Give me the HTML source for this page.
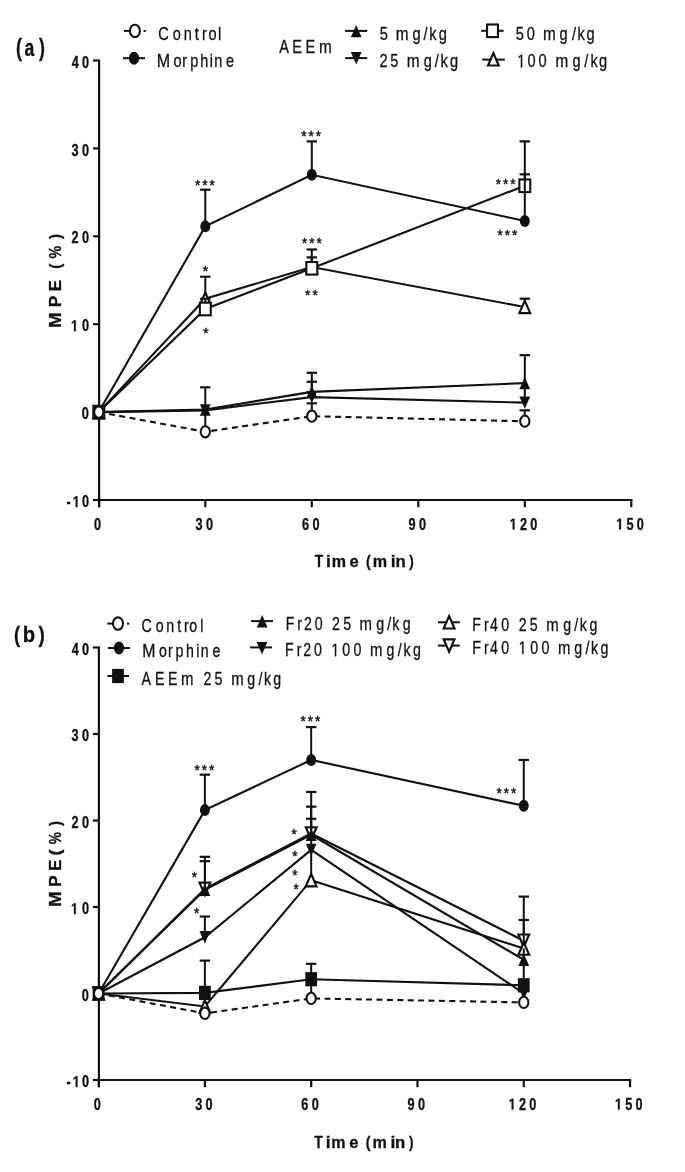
<!DOCTYPE html>
<html><head><meta charset="utf-8"><style>
html,body{margin:0;padding:0;background:#fff;}
svg{display:block;will-change:transform;}
text{font-family:"Liberation Sans",sans-serif;font-kerning:none;stroke:none;}
.r{stroke:#111;stroke-width:0.3px;}
.b{stroke:#111;stroke-width:0.3px;}
</style></head><body>
<svg width="685" height="1172" viewBox="0 0 685 1172">
<rect width="685" height="1172" fill="#fff"/>
<g stroke="#111" fill="#111" font-family="Liberation Sans, sans-serif">
<line x1="99.10" y1="59.40" x2="99.10" y2="507.20" stroke-width="2.20"/>
<line x1="93.10" y1="60.50" x2="99.10" y2="60.50" stroke-width="2.20"/>
<line x1="93.10" y1="148.40" x2="99.10" y2="148.40" stroke-width="2.20"/>
<line x1="93.10" y1="236.30" x2="99.10" y2="236.30" stroke-width="2.20"/>
<line x1="93.10" y1="324.20" x2="99.10" y2="324.20" stroke-width="2.20"/>
<line x1="93.10" y1="412.10" x2="99.10" y2="412.10" stroke-width="2.20"/>
<line x1="93.10" y1="500.00" x2="99.10" y2="500.00" stroke-width="2.20"/>
<line x1="93.10" y1="500.00" x2="632.40" y2="500.00" stroke-width="2.20"/>
<line x1="99.10" y1="500.00" x2="99.10" y2="507.20" stroke-width="2.20"/>
<line x1="205.30" y1="500.00" x2="205.30" y2="507.20" stroke-width="2.20"/>
<line x1="311.80" y1="500.00" x2="311.80" y2="507.20" stroke-width="2.20"/>
<line x1="418.30" y1="500.00" x2="418.30" y2="507.20" stroke-width="2.20"/>
<line x1="524.80" y1="500.00" x2="524.80" y2="507.20" stroke-width="2.20"/>
<line x1="631.30" y1="500.00" x2="631.30" y2="507.20" stroke-width="2.20"/>
<text transform="translate(71.71,67.60) scale(0.8000,1)" font-size="15.90" font-weight="bold" letter-spacing="3.957" class="b">40</text>
<text transform="translate(71.61,155.50) scale(0.8000,1)" font-size="15.90" font-weight="bold" letter-spacing="4.084" class="b">30</text>
<text transform="translate(71.45,243.40) scale(0.8000,1)" font-size="15.90" font-weight="bold" letter-spacing="4.275" class="b">20</text>
<text transform="translate(71.03,331.30) scale(0.8000,1)" font-size="15.90" font-weight="bold" letter-spacing="4.806" class="b"> 0</text>
<path transform="translate(71.030,331.300) scale(0.00621,-0.00776)" d="M478 0V1170L140 959V1180L493 1409H759V0Z" fill="#111" stroke="#111" stroke-width="38.642"/>
<text transform="translate(81.79,419.20) scale(0.8000,1)" font-size="15.90" font-weight="bold" letter-spacing="0.000" class="b">0</text>
<text transform="translate(66.40,507.10) scale(0.8000,1)" font-size="15.90" font-weight="bold" letter-spacing="2.647" class="b">- 0</text>
<path transform="translate(72.757,507.100) scale(0.00621,-0.00776)" d="M478 0V1170L140 959V1180L493 1409H759V0Z" fill="#111" stroke="#111" stroke-width="38.642"/>
<text transform="translate(93.89,529.60) scale(0.8000,1)" font-size="15.90" font-weight="bold" letter-spacing="0.000" class="b">0</text>
<text transform="translate(195.61,529.60) scale(0.8000,1)" font-size="15.90" font-weight="bold" letter-spacing="4.084" class="b">30</text>
<text transform="translate(301.93,529.60) scale(0.8000,1)" font-size="15.90" font-weight="bold" letter-spacing="4.307" class="b">60</text>
<text transform="translate(408.45,529.60) scale(0.8000,1)" font-size="15.90" font-weight="bold" letter-spacing="4.275" class="b">90</text>
<text transform="translate(509.73,529.60) scale(0.8000,1)" font-size="15.90" font-weight="bold" letter-spacing="3.981" class="b"> 20</text>
<path transform="translate(509.730,529.600) scale(0.00621,-0.00776)" d="M478 0V1170L140 959V1180L493 1409H759V0Z" fill="#111" stroke="#111" stroke-width="38.642"/>
<text transform="translate(616.23,529.60) scale(0.8000,1)" font-size="15.90" font-weight="bold" letter-spacing="3.981" class="b"> 50</text>
<path transform="translate(616.230,529.600) scale(0.00621,-0.00776)" d="M478 0V1170L140 959V1180L493 1409H759V0Z" fill="#111" stroke="#111" stroke-width="38.642"/>
<text transform="translate(16.11,55.60) scale(0.7676,1)" font-size="23.10" font-weight="bold" class="b">(</text>
<text transform="translate(24.59,55.60) scale(0.7635,1)" font-size="23.10" font-weight="bold" class="b">a</text>
<text transform="translate(38.88,55.60) scale(0.7676,1)" font-size="23.10" font-weight="bold" class="b">)</text>
<text transform="translate(314.65,566.90) scale(0.8189,1)" font-size="17.00" font-weight="bold" class="b">T</text>
<text transform="translate(326.07,566.90) scale(1.0305,1)" font-size="17.00" font-weight="bold" class="b">i</text>
<text transform="translate(331.64,566.90) scale(0.9430,1)" font-size="17.00" font-weight="bold" class="b">m</text>
<text transform="translate(349.55,566.90) scale(0.9743,1)" font-size="17.00" font-weight="bold" class="b">e</text>
<text transform="translate(366.09,566.90) scale(0.8344,1)" font-size="17.00" font-weight="bold" class="b">(</text>
<text transform="translate(372.73,566.90) scale(0.9508,1)" font-size="17.00" font-weight="bold" class="b">m</text>
<text transform="translate(390.77,566.90) scale(1.0305,1)" font-size="17.00" font-weight="bold" class="b">i</text>
<text transform="translate(395.39,566.90) scale(0.9865,1)" font-size="17.00" font-weight="bold" class="b">n</text>
<text transform="translate(409.19,566.90) scale(0.7927,1)" font-size="17.00" font-weight="bold" class="b">)</text>
<text transform="translate(60.50,327.73) rotate(-90) scale(1.1374,1)" font-size="16.10" font-weight="bold" class="b">M</text>
<text transform="translate(60.50,307.16) rotate(-90) scale(1.0754,1)" font-size="16.10" font-weight="bold" class="b">P</text>
<text transform="translate(60.50,291.32) rotate(-90) scale(1.0407,1)" font-size="16.10" font-weight="bold" class="b">E</text>
<text transform="translate(60.50,268.76) rotate(-90) scale(0.9471,1)" font-size="16.10" font-weight="bold" class="b">(</text>
<text transform="translate(60.50,258.56) rotate(-90) scale(0.8894,1)" font-size="16.10" font-weight="bold" class="b">%</text>
<text transform="translate(60.50,239.02) rotate(-90) scale(0.9471,1)" font-size="16.10" font-weight="bold" class="b">)</text>
<polyline points="98.80,412.10 205.30,298.71 311.80,267.07 524.80,306.97" fill="none" stroke-width="2.10"/>
<line x1="205.30" y1="298.71" x2="205.30" y2="276.73" stroke-width="2.00"/>
<line x1="200.10" y1="276.73" x2="210.50" y2="276.73" stroke-width="2.20"/>
<line x1="311.80" y1="267.07" x2="311.80" y2="249.49" stroke-width="2.00"/>
<line x1="306.60" y1="249.49" x2="317.00" y2="249.49" stroke-width="2.20"/>
<line x1="524.80" y1="306.97" x2="524.80" y2="298.71" stroke-width="2.00"/>
<line x1="519.60" y1="298.71" x2="530.00" y2="298.71" stroke-width="2.20"/>
<polygon points="93.40,418.30 98.80,405.90 104.20,418.30" fill="#fff" stroke-width="2.15" stroke-linejoin="miter"/>
<polygon points="199.90,304.91 205.30,292.51 210.70,304.91" fill="#fff" stroke-width="2.15" stroke-linejoin="miter"/>
<polygon points="306.40,273.27 311.80,260.87 317.20,273.27" fill="#fff" stroke-width="2.15" stroke-linejoin="miter"/>
<polygon points="519.40,313.17 524.80,300.77 530.20,313.17" fill="#fff" stroke-width="2.15" stroke-linejoin="miter"/>
<polyline points="98.80,412.10 205.30,308.99 311.80,268.30 524.80,185.76" fill="none" stroke-width="2.10"/>
<line x1="205.30" y1="308.99" x2="205.30" y2="298.71" stroke-width="2.00"/>
<line x1="200.10" y1="298.71" x2="210.50" y2="298.71" stroke-width="2.20"/>
<line x1="311.80" y1="268.30" x2="311.80" y2="257.40" stroke-width="2.00"/>
<line x1="306.60" y1="257.40" x2="317.00" y2="257.40" stroke-width="2.20"/>
<line x1="524.80" y1="185.76" x2="524.80" y2="141.37" stroke-width="2.00"/>
<line x1="519.60" y1="141.37" x2="530.00" y2="141.37" stroke-width="2.20"/>
<rect x="93.35" y="405.80" width="10.90" height="12.60" fill="#fff" stroke-width="2.1"/>
<rect x="199.85" y="302.69" width="10.90" height="12.60" fill="#fff" stroke-width="2.1"/>
<rect x="306.35" y="262.00" width="10.90" height="12.60" fill="#fff" stroke-width="2.1"/>
<rect x="519.35" y="179.46" width="10.90" height="12.60" fill="#fff" stroke-width="2.1"/>
<polyline points="98.80,412.10 205.30,410.34 311.80,397.16 524.80,402.61" fill="none" stroke-width="2.10"/>
<line x1="205.30" y1="410.34" x2="205.30" y2="409.46" stroke-width="2.00"/>
<line x1="311.80" y1="397.16" x2="311.80" y2="381.77" stroke-width="2.00"/>
<line x1="306.60" y1="381.77" x2="317.00" y2="381.77" stroke-width="2.20"/>
<line x1="524.80" y1="402.61" x2="524.80" y2="383.97" stroke-width="2.00"/>
<polygon points="93.40,405.90 98.80,418.30 104.20,405.90" fill="#111" stroke="none"/>
<polygon points="199.90,404.14 205.30,416.54 210.70,404.14" fill="#111" stroke="none"/>
<polygon points="306.40,390.96 311.80,403.36 317.20,390.96" fill="#111" stroke="none"/>
<polygon points="519.40,396.41 524.80,408.81 530.20,396.41" fill="#111" stroke="none"/>
<polyline points="98.80,412.10 205.30,409.46 311.80,391.88 524.80,383.09" fill="none" stroke-width="2.10"/>
<line x1="205.30" y1="409.46" x2="205.30" y2="387.31" stroke-width="2.00"/>
<line x1="200.10" y1="387.31" x2="210.50" y2="387.31" stroke-width="2.20"/>
<line x1="311.80" y1="391.88" x2="311.80" y2="372.81" stroke-width="2.00"/>
<line x1="306.60" y1="372.81" x2="317.00" y2="372.81" stroke-width="2.20"/>
<line x1="524.80" y1="383.09" x2="524.80" y2="355.14" stroke-width="2.00"/>
<line x1="519.60" y1="355.14" x2="530.00" y2="355.14" stroke-width="2.20"/>
<polygon points="93.40,418.30 98.80,405.90 104.20,418.30" fill="#111" stroke="none"/>
<polygon points="199.90,415.66 205.30,403.26 210.70,415.66" fill="#111" stroke="none"/>
<polygon points="306.40,398.08 311.80,385.68 317.20,398.08" fill="#111" stroke="none"/>
<polygon points="519.40,389.29 524.80,376.89 530.20,389.29" fill="#111" stroke="none"/>
<polyline points="98.80,412.10 205.30,226.37 311.80,174.77 524.80,220.92" fill="none" stroke-width="2.10"/>
<line x1="205.30" y1="226.37" x2="205.30" y2="189.71" stroke-width="2.00"/>
<line x1="200.10" y1="189.71" x2="210.50" y2="189.71" stroke-width="2.20"/>
<line x1="311.80" y1="174.77" x2="311.80" y2="141.37" stroke-width="2.00"/>
<line x1="306.60" y1="141.37" x2="317.00" y2="141.37" stroke-width="2.20"/>
<line x1="524.80" y1="220.92" x2="524.80" y2="174.33" stroke-width="2.00"/>
<line x1="519.60" y1="174.33" x2="530.00" y2="174.33" stroke-width="2.20"/>
<ellipse cx="98.80" cy="412.10" rx="5.00" ry="6.00" fill="#111" stroke="none"/>
<ellipse cx="205.30" cy="226.37" rx="5.00" ry="6.00" fill="#111" stroke="none"/>
<ellipse cx="311.80" cy="174.77" rx="5.00" ry="6.00" fill="#111" stroke="none"/>
<ellipse cx="524.80" cy="220.92" rx="5.00" ry="6.00" fill="#111" stroke="none"/>
<polyline points="98.80,412.10 205.30,431.79 311.80,416.23 524.80,421.24" fill="none" stroke-width="2.10" stroke-dasharray="6,4.4"/>
<line x1="205.30" y1="431.79" x2="205.30" y2="412.10" stroke-width="2.00"/>
<line x1="311.80" y1="416.23" x2="311.80" y2="403.31" stroke-width="2.00"/>
<line x1="306.60" y1="403.31" x2="317.00" y2="403.31" stroke-width="2.20"/>
<line x1="524.80" y1="421.24" x2="524.80" y2="410.34" stroke-width="2.00"/>
<line x1="519.60" y1="410.34" x2="530.00" y2="410.34" stroke-width="2.20"/>
<ellipse cx="98.80" cy="412.10" rx="4.65" ry="5.60" fill="#fff" stroke-width="2.05"/>
<ellipse cx="205.30" cy="431.79" rx="4.65" ry="5.60" fill="#fff" stroke-width="2.05"/>
<ellipse cx="311.80" cy="416.23" rx="4.65" ry="5.60" fill="#fff" stroke-width="2.05"/>
<ellipse cx="524.80" cy="421.24" rx="4.65" ry="5.60" fill="#fff" stroke-width="2.05"/>
<text transform="translate(195.08,189.73) scale(0.9500,1)" font-size="14.30" font-weight="normal" letter-spacing="2.093" class="r" style="stroke-width:0.45px">***</text>
<text transform="translate(301.28,140.53) scale(0.9500,1)" font-size="14.30" font-weight="normal" letter-spacing="2.093" class="r" style="stroke-width:0.45px">***</text>
<text transform="translate(202.78,275.83) scale(0.9500,1)" font-size="14.30" font-weight="normal" letter-spacing="0.000" class="r" style="stroke-width:0.45px">*</text>
<text transform="translate(203.18,337.73) scale(0.9500,1)" font-size="14.30" font-weight="normal" letter-spacing="0.000" class="r" style="stroke-width:0.45px">*</text>
<text transform="translate(301.88,248.33) scale(0.9500,1)" font-size="14.30" font-weight="normal" letter-spacing="2.093" class="r" style="stroke-width:0.45px">***</text>
<text transform="translate(305.03,300.33) scale(0.9500,1)" font-size="14.30" font-weight="normal" letter-spacing="2.277" class="r" style="stroke-width:0.45px">**</text>
<text transform="translate(495.68,189.23) scale(0.9500,1)" font-size="14.30" font-weight="normal" letter-spacing="2.093" class="r" style="stroke-width:0.45px">***</text>
<text transform="translate(497.58,240.03) scale(0.9500,1)" font-size="14.30" font-weight="normal" letter-spacing="2.093" class="r" style="stroke-width:0.45px">***</text>
<line x1="123.90" y1="30.90" x2="129.50" y2="30.90" stroke-width="2.00"/>
<line x1="143.60" y1="30.90" x2="145.80" y2="30.90" stroke-width="2.00"/>
<ellipse cx="134.90" cy="30.90" rx="5.00" ry="6.20" fill="#fff" stroke-width="2.05"/>
<line x1="123.00" y1="58.20" x2="145.00" y2="58.20" stroke-width="2.00"/>
<ellipse cx="134.00" cy="58.20" rx="5.15" ry="6.45" fill="#111" stroke="none"/>
<text transform="scale(0.7800,1)" x="203.02 221.52 235.43 249.59 259.02 267.42 279.39" y="40.10" font-size="18.70" font-weight="normal" class="r">Control</text>
<text transform="scale(0.8700,1)" x="180.21" y="67.20" font-size="18.50" font-weight="normal" class="r">M</text>
<text transform="scale(0.7800,1)" x="222.56 233.78 243.93 256.67 269.02 274.68 289.86" y="67.20" font-size="18.50" font-weight="normal" class="r">orphine</text>
<text transform="scale(0.7800,1)" x="357.91 374.75 391.67" y="53.00" font-size="18.70" font-weight="normal" class="r">AEE</text>
<text transform="scale(0.8200,1)" x="389.01" y="53.00" font-size="18.70" font-weight="normal" class="r">m</text>
<line x1="345.10" y1="30.90" x2="367.20" y2="30.90" stroke-width="2.00"/>
<polygon points="350.80,37.30 356.20,24.90 361.60,37.30" fill="#111" stroke="none"/>
<line x1="345.10" y1="58.10" x2="367.20" y2="58.10" stroke-width="2.00"/>
<polygon points="350.80,52.10 356.20,64.50 361.60,52.10" fill="#111" stroke="none"/>
<text transform="scale(0.7800,1)" x="486.82 528.83 543.08 550.29 562.55" y="40.00" font-size="18.70" font-weight="normal" class="r">5g/kg</text>
<text transform="scale(0.8200,1)" x="482.55" y="40.00" font-size="18.70" font-weight="normal" class="r">m</text>
<text transform="scale(0.7800,1)" x="486.63 500.28 543.19 557.44 564.64 576.78" y="66.60" font-size="18.70" font-weight="normal" class="r">25g/kg</text>
<text transform="scale(0.8200,1)" x="496.08" y="66.60" font-size="18.70" font-weight="normal" class="r">m</text>
<line x1="481.20" y1="30.80" x2="503.60" y2="30.80" stroke-width="2.00"/>
<rect x="487.05" y="24.50" width="10.90" height="12.60" fill="#fff" stroke-width="2.1"/>
<line x1="482.30" y1="59.60" x2="504.80" y2="59.60" stroke-width="2.00"/>
<polygon points="488.00,65.50 493.40,53.10 498.80,65.50" fill="#fff" stroke-width="2.15" stroke-linejoin="miter"/>
<text transform="scale(0.7800,1)" x="661.30 675.30 717.42 733.21 740.29 752.04" y="40.00" font-size="18.70" font-weight="normal" class="r">50g/kg</text>
<text transform="scale(0.8200,1)" x="662.30" y="40.00" font-size="18.70" font-weight="normal" class="r">m</text>
<path transform="translate(517.197,67.500) scale(0.00712,-0.00913)" d="M515 0V1237L197 1010V1180L530 1409H696V0Z" fill="#111" stroke="#111" stroke-width="32.856"/>
<text transform="scale(0.7800,1)" x="676.32 690.30 733.83 749.10 757.21 767.93" y="67.50" font-size="18.70" font-weight="normal" class="r">00g/kg</text>
<text transform="scale(0.8200,1)" x="677.42" y="67.50" font-size="18.70" font-weight="normal" class="r">m</text>
<line x1="98.90" y1="646.40" x2="98.90" y2="1087.20" stroke-width="2.20"/>
<line x1="92.90" y1="647.50" x2="98.90" y2="647.50" stroke-width="2.20"/>
<line x1="92.90" y1="734.00" x2="98.90" y2="734.00" stroke-width="2.20"/>
<line x1="92.90" y1="820.50" x2="98.90" y2="820.50" stroke-width="2.20"/>
<line x1="92.90" y1="907.00" x2="98.90" y2="907.00" stroke-width="2.20"/>
<line x1="92.90" y1="993.50" x2="98.90" y2="993.50" stroke-width="2.20"/>
<line x1="92.90" y1="1080.00" x2="98.90" y2="1080.00" stroke-width="2.20"/>
<line x1="92.90" y1="1080.00" x2="631.15" y2="1080.00" stroke-width="2.20"/>
<line x1="98.90" y1="1080.00" x2="98.90" y2="1087.20" stroke-width="2.20"/>
<line x1="204.89" y1="1080.00" x2="204.89" y2="1087.20" stroke-width="2.20"/>
<line x1="311.18" y1="1080.00" x2="311.18" y2="1087.20" stroke-width="2.20"/>
<line x1="417.47" y1="1080.00" x2="417.47" y2="1087.20" stroke-width="2.20"/>
<line x1="523.76" y1="1080.00" x2="523.76" y2="1087.20" stroke-width="2.20"/>
<line x1="630.05" y1="1080.00" x2="630.05" y2="1087.20" stroke-width="2.20"/>
<text transform="translate(71.71,654.60) scale(0.8000,1)" font-size="15.90" font-weight="bold" letter-spacing="3.957" class="b">40</text>
<text transform="translate(71.61,741.10) scale(0.8000,1)" font-size="15.90" font-weight="bold" letter-spacing="4.084" class="b">30</text>
<text transform="translate(71.45,827.60) scale(0.8000,1)" font-size="15.90" font-weight="bold" letter-spacing="4.275" class="b">20</text>
<text transform="translate(71.03,914.10) scale(0.8000,1)" font-size="15.90" font-weight="bold" letter-spacing="4.806" class="b"> 0</text>
<path transform="translate(71.030,914.100) scale(0.00621,-0.00776)" d="M478 0V1170L140 959V1180L493 1409H759V0Z" fill="#111" stroke="#111" stroke-width="38.642"/>
<text transform="translate(81.79,1000.60) scale(0.8000,1)" font-size="15.90" font-weight="bold" letter-spacing="0.000" class="b">0</text>
<text transform="translate(66.40,1087.10) scale(0.8000,1)" font-size="15.90" font-weight="bold" letter-spacing="2.647" class="b">- 0</text>
<path transform="translate(72.757,1087.100) scale(0.00621,-0.00776)" d="M478 0V1170L140 959V1180L493 1409H759V0Z" fill="#111" stroke="#111" stroke-width="38.642"/>
<text transform="translate(93.69,1109.60) scale(0.8000,1)" font-size="15.90" font-weight="bold" letter-spacing="0.000" class="b">0</text>
<text transform="translate(195.20,1109.60) scale(0.8000,1)" font-size="15.90" font-weight="bold" letter-spacing="4.084" class="b">30</text>
<text transform="translate(301.31,1109.60) scale(0.8000,1)" font-size="15.90" font-weight="bold" letter-spacing="4.307" class="b">60</text>
<text transform="translate(407.62,1109.60) scale(0.8000,1)" font-size="15.90" font-weight="bold" letter-spacing="4.275" class="b">90</text>
<text transform="translate(508.69,1109.60) scale(0.8000,1)" font-size="15.90" font-weight="bold" letter-spacing="3.981" class="b"> 20</text>
<path transform="translate(508.690,1109.600) scale(0.00621,-0.00776)" d="M478 0V1170L140 959V1180L493 1409H759V0Z" fill="#111" stroke="#111" stroke-width="38.642"/>
<text transform="translate(614.98,1109.60) scale(0.8000,1)" font-size="15.90" font-weight="bold" letter-spacing="3.981" class="b"> 50</text>
<path transform="translate(614.980,1109.600) scale(0.00621,-0.00776)" d="M478 0V1170L140 959V1180L493 1409H759V0Z" fill="#111" stroke="#111" stroke-width="38.642"/>
<text transform="translate(14.08,642.00) scale(0.8052,1)" font-size="22.90" font-weight="bold" class="b">(</text>
<text transform="translate(22.66,642.00) scale(0.8838,1)" font-size="22.90" font-weight="bold" class="b">b</text>
<text transform="translate(38.58,642.00) scale(0.8207,1)" font-size="22.90" font-weight="bold" class="b">)</text>
<text transform="translate(314.35,1147.60) scale(0.8189,1)" font-size="17.00" font-weight="bold" class="b">T</text>
<text transform="translate(325.77,1147.60) scale(1.0305,1)" font-size="17.00" font-weight="bold" class="b">i</text>
<text transform="translate(331.34,1147.60) scale(0.9430,1)" font-size="17.00" font-weight="bold" class="b">m</text>
<text transform="translate(349.25,1147.60) scale(0.9743,1)" font-size="17.00" font-weight="bold" class="b">e</text>
<text transform="translate(365.79,1147.60) scale(0.8344,1)" font-size="17.00" font-weight="bold" class="b">(</text>
<text transform="translate(372.43,1147.60) scale(0.9508,1)" font-size="17.00" font-weight="bold" class="b">m</text>
<text transform="translate(390.47,1147.60) scale(1.0305,1)" font-size="17.00" font-weight="bold" class="b">i</text>
<text transform="translate(395.09,1147.60) scale(0.9865,1)" font-size="17.00" font-weight="bold" class="b">n</text>
<text transform="translate(408.89,1147.60) scale(0.7927,1)" font-size="17.00" font-weight="bold" class="b">)</text>
<text transform="translate(60.50,906.73) rotate(-90) scale(1.1374,1)" font-size="16.10" font-weight="bold" class="b">M</text>
<text transform="translate(60.50,887.07) rotate(-90) scale(1.0864,1)" font-size="16.10" font-weight="bold" class="b">P</text>
<text transform="translate(60.50,870.72) rotate(-90) scale(1.0407,1)" font-size="16.10" font-weight="bold" class="b">E</text>
<text transform="translate(60.50,855.60) rotate(-90) scale(1.1233,1)" font-size="16.10" font-weight="bold" class="b">(</text>
<text transform="translate(60.50,844.34) rotate(-90) scale(0.8524,1)" font-size="16.10" font-weight="bold" class="b">%</text>
<text transform="translate(60.50,826.12) rotate(-90) scale(0.9471,1)" font-size="16.10" font-weight="bold" class="b">)</text>
<polyline points="98.60,993.50 204.89,888.84 311.18,833.48 523.76,940.74" fill="none" stroke-width="2.10"/>
<line x1="204.89" y1="888.84" x2="204.89" y2="861.15" stroke-width="2.00"/>
<line x1="199.69" y1="861.15" x2="210.09" y2="861.15" stroke-width="2.20"/>
<line x1="311.18" y1="833.48" x2="311.18" y2="791.95" stroke-width="2.00"/>
<line x1="305.98" y1="791.95" x2="316.38" y2="791.95" stroke-width="2.20"/>
<line x1="523.76" y1="940.74" x2="523.76" y2="896.62" stroke-width="2.00"/>
<line x1="518.56" y1="896.62" x2="528.96" y2="896.62" stroke-width="2.20"/>
<polygon points="93.20,987.30 98.60,999.70 104.00,987.30" fill="#fff" stroke-width="2.15" stroke-linejoin="miter"/>
<polygon points="199.49,882.63 204.89,895.04 210.29,882.63" fill="#fff" stroke-width="2.15" stroke-linejoin="miter"/>
<polygon points="305.78,827.27 311.18,839.68 316.58,827.27" fill="#fff" stroke-width="2.15" stroke-linejoin="miter"/>
<polygon points="518.36,934.53 523.76,946.94 529.16,934.53" fill="#fff" stroke-width="2.15" stroke-linejoin="miter"/>
<polyline points="98.60,993.50 204.89,1006.48 311.18,880.18 523.76,948.52" fill="none" stroke-width="2.10"/>
<line x1="204.89" y1="1006.48" x2="204.89" y2="993.50" stroke-width="2.00"/>
<line x1="311.18" y1="880.18" x2="311.18" y2="849.91" stroke-width="2.00"/>
<line x1="523.76" y1="948.52" x2="523.76" y2="919.98" stroke-width="2.00"/>
<line x1="518.56" y1="919.98" x2="528.96" y2="919.98" stroke-width="2.20"/>
<polygon points="93.20,999.70 98.60,987.30 104.00,999.70" fill="#fff" stroke-width="2.15" stroke-linejoin="miter"/>
<polygon points="199.49,1012.68 204.89,1000.27 210.29,1012.68" fill="#fff" stroke-width="2.15" stroke-linejoin="miter"/>
<polygon points="305.78,886.38 311.18,873.98 316.58,886.38" fill="#fff" stroke-width="2.15" stroke-linejoin="miter"/>
<polygon points="518.36,954.72 523.76,942.32 529.16,954.72" fill="#fff" stroke-width="2.15" stroke-linejoin="miter"/>
<polyline points="98.60,993.50 204.89,937.27 311.18,849.91 523.76,993.50" fill="none" stroke-width="2.10"/>
<line x1="204.89" y1="937.27" x2="204.89" y2="916.51" stroke-width="2.00"/>
<line x1="199.69" y1="916.51" x2="210.09" y2="916.51" stroke-width="2.20"/>
<line x1="311.18" y1="849.91" x2="311.18" y2="818.77" stroke-width="2.00"/>
<line x1="305.98" y1="818.77" x2="316.38" y2="818.77" stroke-width="2.20"/>
<line x1="523.76" y1="993.50" x2="523.76" y2="985.28" stroke-width="2.00"/>
<polygon points="93.20,987.30 98.60,999.70 104.00,987.30" fill="#111" stroke="none"/>
<polygon points="199.49,931.07 204.89,943.48 210.29,931.07" fill="#111" stroke="none"/>
<polygon points="305.78,843.71 311.18,856.11 316.58,843.71" fill="#111" stroke="none"/>
<polygon points="518.36,987.30 523.76,999.70 529.16,987.30" fill="#111" stroke="none"/>
<polyline points="98.60,993.50 204.89,889.70 311.18,834.77 523.76,959.76" fill="none" stroke-width="2.10"/>
<line x1="204.89" y1="889.70" x2="204.89" y2="856.83" stroke-width="2.00"/>
<line x1="199.69" y1="856.83" x2="210.09" y2="856.83" stroke-width="2.20"/>
<line x1="311.18" y1="833.48" x2="311.18" y2="806.66" stroke-width="2.00"/>
<line x1="305.98" y1="806.66" x2="316.38" y2="806.66" stroke-width="2.20"/>
<line x1="523.76" y1="959.76" x2="523.76" y2="948.52" stroke-width="2.00"/>
<polygon points="93.20,999.70 98.60,987.30 104.00,999.70" fill="#111" stroke="none"/>
<polygon points="199.49,895.90 204.89,883.50 210.29,895.90" fill="#111" stroke="none"/>
<polygon points="305.78,840.97 311.18,828.57 316.58,840.97" fill="#111" stroke="none"/>
<polygon points="518.36,965.97 523.76,953.56 529.16,965.97" fill="#111" stroke="none"/>
<polyline points="98.60,993.50 204.89,992.89 311.18,979.23 523.76,985.28" fill="none" stroke-width="2.10"/>
<line x1="204.89" y1="992.89" x2="204.89" y2="960.63" stroke-width="2.00"/>
<line x1="199.69" y1="960.63" x2="210.09" y2="960.63" stroke-width="2.20"/>
<line x1="311.18" y1="979.23" x2="311.18" y2="963.83" stroke-width="2.00"/>
<line x1="305.98" y1="963.83" x2="316.38" y2="963.83" stroke-width="2.20"/>
<line x1="523.76" y1="985.28" x2="523.76" y2="959.76" stroke-width="2.00"/>
<rect x="92.70" y="986.40" width="11.80" height="14.20" fill="#111" stroke="none"/>
<rect x="198.99" y="985.79" width="11.80" height="14.20" fill="#111" stroke="none"/>
<rect x="305.28" y="972.13" width="11.80" height="14.20" fill="#111" stroke="none"/>
<rect x="517.86" y="978.18" width="11.80" height="14.20" fill="#111" stroke="none"/>
<polyline points="98.60,993.50 204.89,810.12 311.18,759.95 523.76,805.79" fill="none" stroke-width="2.10"/>
<line x1="204.89" y1="810.12" x2="204.89" y2="774.65" stroke-width="2.00"/>
<line x1="199.69" y1="774.65" x2="210.09" y2="774.65" stroke-width="2.20"/>
<line x1="311.18" y1="759.95" x2="311.18" y2="727.08" stroke-width="2.00"/>
<line x1="305.98" y1="727.08" x2="316.38" y2="727.08" stroke-width="2.20"/>
<line x1="523.76" y1="805.79" x2="523.76" y2="759.95" stroke-width="2.00"/>
<line x1="518.56" y1="759.95" x2="528.96" y2="759.95" stroke-width="2.20"/>
<ellipse cx="98.60" cy="993.50" rx="5.00" ry="6.00" fill="#111" stroke="none"/>
<ellipse cx="204.89" cy="810.12" rx="5.00" ry="6.00" fill="#111" stroke="none"/>
<ellipse cx="311.18" cy="759.95" rx="5.00" ry="6.00" fill="#111" stroke="none"/>
<ellipse cx="523.76" cy="805.79" rx="5.00" ry="6.00" fill="#111" stroke="none"/>
<polyline points="98.60,993.50 204.89,1013.39 311.18,998.43 523.76,1002.41" fill="none" stroke-width="2.10" stroke-dasharray="6,4.4"/>
<line x1="204.89" y1="1013.39" x2="204.89" y2="1006.48" stroke-width="2.00"/>
<line x1="311.18" y1="998.43" x2="311.18" y2="979.23" stroke-width="2.00"/>
<line x1="523.76" y1="1002.41" x2="523.76" y2="990.90" stroke-width="2.00"/>
<ellipse cx="98.60" cy="993.50" rx="4.65" ry="5.60" fill="#fff" stroke-width="2.05"/>
<ellipse cx="204.89" cy="1013.39" rx="4.65" ry="5.60" fill="#fff" stroke-width="2.05"/>
<ellipse cx="311.18" cy="998.43" rx="4.65" ry="5.60" fill="#fff" stroke-width="2.05"/>
<ellipse cx="523.76" cy="1002.41" rx="4.65" ry="5.60" fill="#fff" stroke-width="2.05"/>
<text transform="translate(194.58,774.73) scale(0.9500,1)" font-size="14.30" font-weight="normal" letter-spacing="2.093" class="r" style="stroke-width:0.45px">***</text>
<text transform="translate(300.58,725.83) scale(0.9500,1)" font-size="14.30" font-weight="normal" letter-spacing="2.093" class="r" style="stroke-width:0.45px">***</text>
<text transform="translate(496.58,797.63) scale(0.9500,1)" font-size="14.30" font-weight="normal" letter-spacing="2.093" class="r" style="stroke-width:0.45px">***</text>
<text transform="translate(191.68,882.13) scale(0.9500,1)" font-size="14.30" font-weight="normal" letter-spacing="0.000" class="r" style="stroke-width:0.45px">*</text>
<text transform="translate(193.98,918.33) scale(0.9500,1)" font-size="14.30" font-weight="normal" letter-spacing="0.000" class="r" style="stroke-width:0.45px">*</text>
<text transform="translate(291.48,838.93) scale(0.9500,1)" font-size="14.30" font-weight="normal" letter-spacing="0.000" class="r" style="stroke-width:0.45px">*</text>
<text transform="translate(292.28,860.83) scale(0.9500,1)" font-size="14.30" font-weight="normal" letter-spacing="0.000" class="r" style="stroke-width:0.45px">*</text>
<text transform="translate(292.28,880.43) scale(0.9500,1)" font-size="14.30" font-weight="normal" letter-spacing="0.000" class="r" style="stroke-width:0.45px">*</text>
<text transform="translate(293.48,893.83) scale(0.9500,1)" font-size="14.30" font-weight="normal" letter-spacing="0.000" class="r" style="stroke-width:0.45px">*</text>
<line x1="107.30" y1="623.60" x2="112.50" y2="623.60" stroke-width="2.00"/>
<line x1="127.00" y1="623.60" x2="129.20" y2="623.60" stroke-width="2.00"/>
<ellipse cx="118.00" cy="623.60" rx="5.00" ry="6.20" fill="#fff" stroke-width="2.05"/>
<line x1="108.00" y1="648.00" x2="130.00" y2="648.00" stroke-width="2.00"/>
<ellipse cx="119.00" cy="648.00" rx="5.15" ry="6.45" fill="#111" stroke="none"/>
<line x1="107.30" y1="676.00" x2="129.00" y2="676.00" stroke-width="2.00"/>
<rect x="112.10" y="668.90" width="11.80" height="14.20" fill="#111" stroke="none"/>
<text transform="scale(0.7800,1)" x="181.38 199.75 213.16 227.16 235.98 242.70 256.60" y="632.20" font-size="18.20" font-weight="normal" class="r">Control</text>
<text transform="scale(0.8700,1)" x="163.45" y="657.20" font-size="18.20" font-weight="normal" class="r">M</text>
<text transform="scale(0.7800,1)" x="203.98 215.34 224.97 238.36 251.47 257.39 272.57" y="657.20" font-size="18.20" font-weight="normal" class="r">orphine</text>
<text transform="scale(0.7800,1)" x="181.50 198.76 215.43 260.76 275.04 317.06 331.28 338.52 350.39" y="684.70" font-size="18.20" font-weight="normal" class="r">AEE25g/kg</text>
<text transform="scale(0.8200,1)" x="220.87 281.97" y="684.70" font-size="18.20" font-weight="normal" class="r">mm</text>
<line x1="251.10" y1="621.10" x2="273.00" y2="621.10" stroke-width="2.00"/>
<polygon points="256.80,627.50 262.20,615.10 267.60,627.50" fill="#111" stroke="none"/>
<line x1="250.10" y1="647.40" x2="272.00" y2="647.40" stroke-width="2.00"/>
<polygon points="256.60,642.00 262.00,654.40 267.40,642.00" fill="#111" stroke="none"/>
<text transform="scale(0.7800,1)" x="366.33 381.11 389.86 403.65 425.50 440.04 482.31 496.54 502.88 516.29" y="629.80" font-size="18.20" font-weight="normal" class="r">Fr2025g/kg</text>
<text transform="scale(0.8200,1)" x="438.31" y="629.80" font-size="18.20" font-weight="normal" class="r">m</text>
<path transform="translate(331.334,656.300) scale(0.00693,-0.00889)" d="M515 0V1237L197 1010V1180L530 1409H696V0Z" fill="#111" stroke="#111" stroke-width="33.758"/>
<text transform="scale(0.7800,1)" x="365.43 380.47 388.71 402.62 438.91 453.14 495.39 510.00 517.24 529.49" y="656.30" font-size="18.20" font-weight="normal" class="r">Fr2000g/kg</text>
<text transform="scale(0.8200,1)" x="451.12" y="656.30" font-size="18.20" font-weight="normal" class="r">m</text>
<line x1="437.90" y1="622.30" x2="459.80" y2="622.30" stroke-width="2.00"/>
<polygon points="443.70,628.50 449.10,616.10 454.50,628.50" fill="#fff" stroke-width="2.15" stroke-linejoin="miter"/>
<line x1="437.90" y1="645.60" x2="459.80" y2="645.60" stroke-width="2.00"/>
<polygon points="443.70,639.40 449.10,651.80 454.50,639.40" fill="#fff" stroke-width="2.15" stroke-linejoin="miter"/>
<text transform="scale(0.7800,1)" x="605.56 620.59 628.30 642.75 665.12 679.14 722.06 736.28 743.40 755.65" y="630.70" font-size="18.20" font-weight="normal" class="r">Fr4025g/kg</text>
<text transform="scale(0.8200,1)" x="666.24" y="630.70" font-size="18.20" font-weight="normal" class="r">m</text>
<path transform="translate(518.634,654.000) scale(0.00693,-0.00889)" d="M515 0V1237L197 1010V1180L530 1409H696V0Z" fill="#111" stroke="#111" stroke-width="33.758"/>
<text transform="scale(0.7800,1)" x="605.56 620.59 628.30 642.75 679.93 694.29 736.29 750.51 757.75 770.00" y="654.00" font-size="18.20" font-weight="normal" class="r">Fr4000g/kg</text>
<text transform="scale(0.8200,1)" x="680.38" y="654.00" font-size="18.20" font-weight="normal" class="r">m</text>
</g>
</svg>
</body></html>
